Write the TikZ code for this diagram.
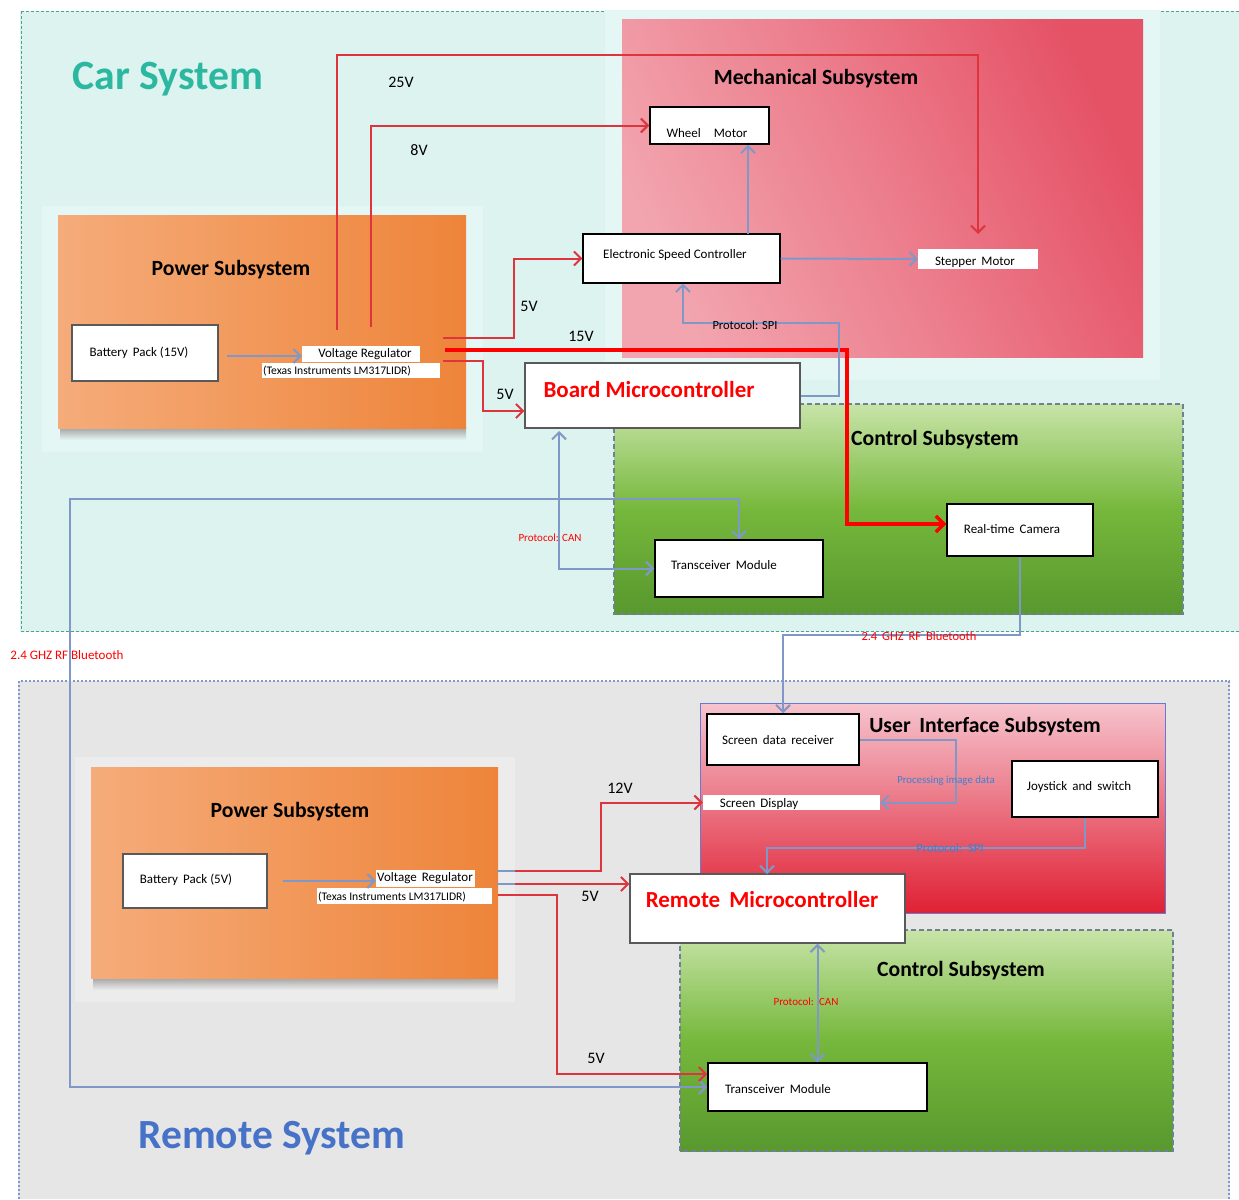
\documentclass[tikz,border=0pt]{standalone}
\usepackage{fontspec}
\setmainfont{Carlito}
\usetikzlibrary{arrows.meta,calc}
\definecolor{carbg}{RGB}{221,243,240}
\definecolor{halo}{RGB}{229,247,245}
\definecolor{remotebg}{RGB}{230,230,230}
\definecolor{remhalo}{RGB}{236,236,236}
\definecolor{pinkA}{RGB}{242,165,175}
\definecolor{pinkM}{RGB}{236,125,140}
\definecolor{pinkB}{RGB}{229,82,102}
\definecolor{orA}{RGB}{245,172,122}
\definecolor{orB}{RGB}{238,132,58}
\definecolor{grA}{RGB}{200,228,168}
\definecolor{grM}{RGB}{118,184,60}
\definecolor{grB}{RGB}{88,152,46}
\definecolor{uiA}{RGB}{246,196,206}
\definecolor{uiB}{RGB}{224,32,52}
\definecolor{bluec}{RGB}{128,152,200}
\definecolor{redc}{RGB}{222,52,62}
\definecolor{cartext}{RGB}{44,184,160}
\definecolor{remtext}{RGB}{70,114,200}
\definecolor{dashc}{RGB}{110,130,150}
\definecolor{protoblue}{RGB}{60,130,210}
\begin{document}
\begin{tikzpicture}[x=1pt,y=-1pt,
  txt/.style={font=\fontsize{13}{14}\selectfont},
  box/.style={draw=black,line width=1.5pt,fill=white,inner sep=0pt},
  gbox/.style={draw=black!65,line width=1.3pt,fill=white,inner sep=0pt},
  wbox/.style={draw=none,fill=white,inner sep=0pt},
  title/.style={font=\bfseries\fontsize{21.7}{23}\selectfont},
  volt/.style={font=\fontsize{16}{17}\selectfont},
  proto/.style={font=\fontsize{11}{12}\selectfont},
  redl/.style={draw=redc,line width=2pt},
  reda/.style={redl,-{Straight Barb[length=7pt,width=14pt]}},
  bluel/.style={draw=bluec,line width=2pt},
  bluea/.style={bluel,-{Straight Barb[length=7pt,width=14pt]}},
  blueaa/.style={bluel,{Straight Barb[length=7pt,width=14pt]}-{Straight Barb[length=7pt,width=14pt]}}
]
\useasboundingbox (0,0) rectangle (1239,1199);
% ---------------- backgrounds
\fill[white] (0,0) rectangle (1239,1199);
\fill[carbg] (20,11) rectangle (1239,632);
\draw[draw=cartext!60!gray,line width=0.9pt,dash pattern=on 3pt off 2pt] (21,11) -- (21,631) -- (1239,631);
\draw[draw=cartext!60!gray,line width=0.9pt,dash pattern=on 3pt off 2pt] (21,11) -- (1239,11);
\fill[remotebg] (18,681) rectangle (1230,1199);
\draw[draw=bluec,line width=1.3pt,dash pattern=on 2pt off 2pt] (19,1199) -- (19,681) -- (1229,681) -- (1229,1199);
% mechanical
\fill[halo] (605,10) rectangle (1160,380);
\shade[left color=pinkA,right color=pinkB,middle color=pinkM,shading angle=115] (622,20) rectangle (1143,357);
% car power
\fill[halo] (42,206) rectangle (483,452);
\shade[top color=black!35,bottom color=halo] (60,428) rectangle (466,440);
\shade[left color=orA,right color=orB] (58,215) rectangle (466,428);
% car control
\shade[top color=grA,bottom color=grB,middle color=grM] (614,404) rectangle (1183,614);
\draw[dashc,line width=2pt,dash pattern=on 5pt off 3pt] (614,404) rectangle (1183,614);
% remote power
\fill[remhalo] (75,757) rectangle (515,1002);
\shade[top color=black!35,bottom color=remhalo] (93,978) rectangle (498,990);
\shade[left color=orA,right color=orB] (91,767) rectangle (498,978);
% UI subsystem
\shade[top color=uiA,bottom color=uiB] (700,703) rectangle (1165,913);
\draw[bluec!80!blue,line width=0.8pt] (700,703) rectangle (1165,913);
% remote control
\shade[top color=grA,bottom color=grB,middle color=grM] (680,930) rectangle (1173,1151);
\draw[dashc,line width=2pt,dash pattern=on 5pt off 3pt] (680,930) rectangle (1173,1151);

% ---------------- titles
\node[font=\bfseries\fontsize{41.7}{44}\selectfont,text=cartext] (cartitle) at (168,79) {Car System};
\node[font=\bfseries\fontsize{41.5}{44}\selectfont,text=remtext] (remtitle) at (272,1138) {Remote System};
\node[title] (mechT) at (816,79) {Mechanical Subsystem};
\node[title] (powT) at (231,270) {Power Subsystem};
\node[title] (ctlT) at (935,440) {Control Subsystem};
\node[title] (powT2) at (290,812) {Power Subsystem};
\node[title] (uiT) at (985,727) {User\, Interface Subsystem};
\node[title] (ctlT2) at (961,971) {Control Subsystem};

% ---------------- car nodes
\node[box,minimum width=119pt,minimum height=37pt] (wheel) at (709.5,125.5) {};
\node[txt] (wheelT) at (707,133) {Wheel\quad Motor};
\node[box,line width=1.3pt,minimum width=197pt,minimum height=49pt] (esc) at (681.5,258.5) {};
\node[txt] (escT) at (675,255) {Electronic Speed Controller};
\node[wbox,minimum width=120pt,minimum height=20pt] (stepper) at (978,259) {};
\node[txt] (stepT) at (975,262) {Stepper\, Motor};
\node[gbox,minimum width=146pt,minimum height=56pt] (bat15) at (145,353) {};
\node[txt] (bat15T) at (139,353) {Battery\, Pack (15V)};
\node[wbox,minimum width=118pt,minimum height=16pt] (vr1) at (361,354) {};
\node[txt] (vr1T) at (365,354) {Voltage Regulator};
\node[wbox,minimum width=178pt,minimum height=15pt] (vr1b) at (351,370.5) {};
\node[font=\fontsize{11.6}{12}\selectfont] (vr1bT) at (337,371) {(Texas Instruments LM317LIDR)};
\node[gbox,minimum width=275pt,minimum height=65pt] (board) at (662.5,395.5) {};
\node[font=\bfseries\fontsize{23}{25}\selectfont,text=red] (boardT) at (649,390) {Board Microcontroller};
\node[box,minimum width=146pt,minimum height=52pt] (camera) at (1020,530) {};
\node[txt] (camT) at (1012,529) {Real-time\, Camera};
\node[box,minimum width=168pt,minimum height=57pt] (transc) at (739,568.5) {};
\node[txt] (transcT) at (724,565) {Transceiver\, Module};

% ---------------- remote nodes
\node[box,minimum width=152pt,minimum height=51pt] (srecv) at (783,739.5) {};
\node[txt] (srecvT) at (778,740) {Screen\, data\, receiver};
\node[wbox,minimum width=177pt,minimum height=15pt] (sdisp) at (791.5,802.5) {};
\node[txt] (sdispT) at (759,804) {Screen\, Display};
\node[box,minimum width=146pt,minimum height=56pt] (joy) at (1085,789) {};
\node[txt] (joyT) at (1079,787) {Joystick\, and\, switch};
\node[gbox,minimum width=275pt,minimum height=69pt] (rmcu) at (767.5,908.5) {};
\node[font=\bfseries\fontsize{23}{25}\selectfont,text=red] (rmcuT) at (762,900) {Remote\, Microcontroller};
\node[gbox,minimum width=144pt,minimum height=54pt] (bat5) at (195,881) {};
\node[txt] (bat5T) at (186,880) {Battery\, Pack (5V)};
\node[wbox,minimum width=99pt,minimum height=17pt] (vr2) at (425.5,878.5) {};
\node[txt] (vr2T) at (425,878) {Voltage\, Regulator};
\node[wbox,minimum width=175pt,minimum height=16pt] (vr2b) at (404.5,896) {};
\node[font=\fontsize{11.6}{12}\selectfont] (vr2bT) at (392,897) {(Texas Instruments LM317LIDR)};
\node[box,minimum width=219pt,minimum height=48pt] (trr) at (817.5,1087) {};
\node[txt] (trrT) at (778,1089) {Transceiver\, Module};

% ---------------- car connectors
\draw[bluea] (bat15.east) ++(8,3) coordinate (b15o) (b15o) -- (vr1.west |- b15o);
\coordinate (p25) at (337,330);
\coordinate (s25) at (978,234);
\draw[reda] (p25) -- (337,55) -| (s25);
\coordinate (p8) at (371,327);
\draw[reda] (p8) |- (wheel.west);
\coordinate (p5a) at (443,338);
\draw[reda] (p5a) -- (514,338) |- (esc.west);
\coordinate (p15) at (445,350);
\draw[draw=red,line width=3.5pt,-{Straight Barb[length=8pt,width=16pt]}] (p15) -- (847,350) |- ($(camera.west)+(0,-6)$);
\coordinate (p5b) at (443,361);
\draw[reda] (p5b) -- (483,361) |- ($(board.west)+(0,15.5)$);
\draw[bluea] (board.east) -- (839,395.5) -- (839,323) -| ($(esc.south)+(1.5,0)$);
\coordinate (escw) at (748,234);
\draw[bluea] (escw) -- (escw |- wheel.south);
\draw[bluea] (esc.east) -- (stepper.west);
\coordinate (canb) at (559,431);
\draw[blueaa] (canb) |- (transc.west);
\draw[blueaa] (trr.west) -| (70,499) -| (transc.north);
\draw[bluea] (camera.south) -- (1020,635) -| (srecv.north);

% ---------------- remote connectors
\draw[bluea] (bat5.east) ++(15,0) coordinate (b5o) (b5o) -- (vr2.west |- b5o);
\draw[bluea] (srecv.east) -- (956,739.5) |- (sdisp.east);
\coordinate (rspi) at (767,874);
\draw[bluea] (joy.south) -- (1085,848) -| (rspi);
\draw[blueaa] (trr.north |- rmcu.south) -- (trr.north);
\draw[bluel] (497,871) -- (517,871);
\draw[bluel] (497,884) -- (517,884);
\coordinate (r12) at (515,871);
\draw[reda] (r12) -- (601,871) |- (sdisp.west);
\coordinate (r5a) at (515,884);
\draw[reda] (r5a) -- ($(rmcu.west)+(0,-24.5)$);
\coordinate (r5b) at (498,895);
\draw[reda] (r5b) -- (557,895) |- ($(trr.west)+(0,-13)$);

% ---------------- labels
\node[volt] (l25) at (401,82) {25V};
\node[volt] (l8) at (419,150) {8V};
\node[volt] (l5a) at (529,306) {5V};
\node[volt] (l15) at (581,336) {15V};
\node[volt] (l5b) at (505,394) {5V};
\node[font=\fontsize{12.5}{13}\selectfont] (lspi) at (745,325) {Protocol: SPI};
\node[proto,text=red] (lcan) at (550,538) {Protocol: CAN};
\node[proto,text=red,font=\fontsize{12.5}{13}\selectfont] (lbt1) at (919,636) {2.4\, GHZ\, RF\, Bluetooth};
\node[proto,text=red,font=\fontsize{13}{14}\selectfont] (lbt2) at (67,655) {2.4 GHZ RF Bluetooth};
\node[volt] (l12) at (620,788) {12V};
\node[volt] (l5c) at (590,896) {5V};
\node[volt] (l5d) at (596,1058) {5V};
\node[text=protoblue,font=\fontsize{10.8}{11}\selectfont] (lproc) at (946,781) {Processing image data};
\node[text=protoblue,font=\fontsize{12.5}{13}\selectfont] (lspi2) at (950,848) {Protocol:\, SPI};
\node[proto,text=red] (lcan2) at (806,1002) {Protocol:\, CAN};
\end{tikzpicture}
\end{document}
